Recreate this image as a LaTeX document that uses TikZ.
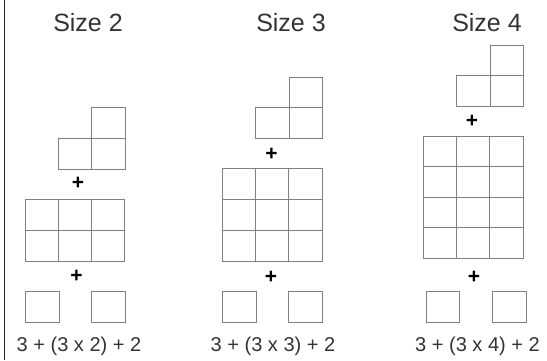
\documentclass[tikz,border=0pt]{standalone}
\usepackage{fontspec}
\setmainfont{Liberation Sans}
\begin{document}
\begin{tikzpicture}[x=1pt,y=-1pt,
  cell/.style={draw=black!50, line width=1pt},
  title/.style={text=black!80, font=\fontsize{25}{25}\selectfont, inner sep=0pt},
  formula/.style={text=black!80, font=\fontsize{20}{20}\selectfont, inner sep=0pt},
  plus/.style={text=black, font=\fontsize{21}{21}\selectfont\bfseries, inner sep=0pt}]
\useasboundingbox (0,0) rectangle (547,360);
\fill[white] (0,0) rectangle (547,360);
% left frame rule
\draw[black!85, line width=1.6pt] (4.5,0) -- (4.5,360);

% one block of unit squares: \cells{x0}{y0}{cols}{rows}{w}{h}
\newcommand\cells[6]{%
  \foreach \ci in {1,...,#3}{\foreach \cj in {1,...,#4}{%
    \draw[cell] ({#1+(\ci-1)*#5},{#2+(\cj-1)*#6}) rectangle ++(#5,#6);}}}

% ---- Size 2 ----
\node[title] (t2) at (88,23) {Size 2};
\cells{91.7}{107}{1}{1}{33.3}{31}
\cells{58.4}{138}{2}{1}{33.3}{31}
\node[plus] (p2a) at (78,183) {+};
\cells{25}{199}{3}{2}{33.3}{31}
\node[plus] (p2b) at (76.5,276.5) {+};
\cells{25}{291}{1}{1}{34}{31}
\cells{91}{291}{1}{1}{34}{31}
\node[formula] (f2) at (79,346) {3 + (3 x 2) + 2};

% ---- Size 3 ----
\node[title] (t3) at (291,23) {Size 3};
\cells{289}{77}{1}{1}{33.3}{30.5}
\cells{255.7}{107.5}{2}{1}{33.3}{31}
\node[plus] (p3a) at (271.5,154.5) {+};
\cells{222.3}{168.3}{3}{3}{33.3}{30.9}
\node[plus] (p3b) at (271,277.5) {+};
\cells{222.3}{291}{1}{1}{34.4}{31}
\cells{288}{291}{1}{1}{34.3}{31}
\node[formula] (f3) at (273,346) {3 + (3 x 3) + 2};

% ---- Size 4 ----
\node[title] (t4) at (487,23) {Size 4};
\cells{490}{45}{1}{1}{33.3}{30.5}
\cells{456.7}{75.5}{2}{1}{33.3}{30.5}
\node[plus] (p4a) at (472,121) {+};
\cells{423.3}{136}{3}{4}{33.3}{30.6}
\node[plus] (p4b) at (474,277.5) {+};
\cells{426}{291}{1}{1}{33.3}{31}
\cells{492}{291}{1}{1}{34.5}{31}
\node[formula] (f4) at (477.5,346) {3 + (3 x 4) + 2};
\end{tikzpicture}
\end{document}
